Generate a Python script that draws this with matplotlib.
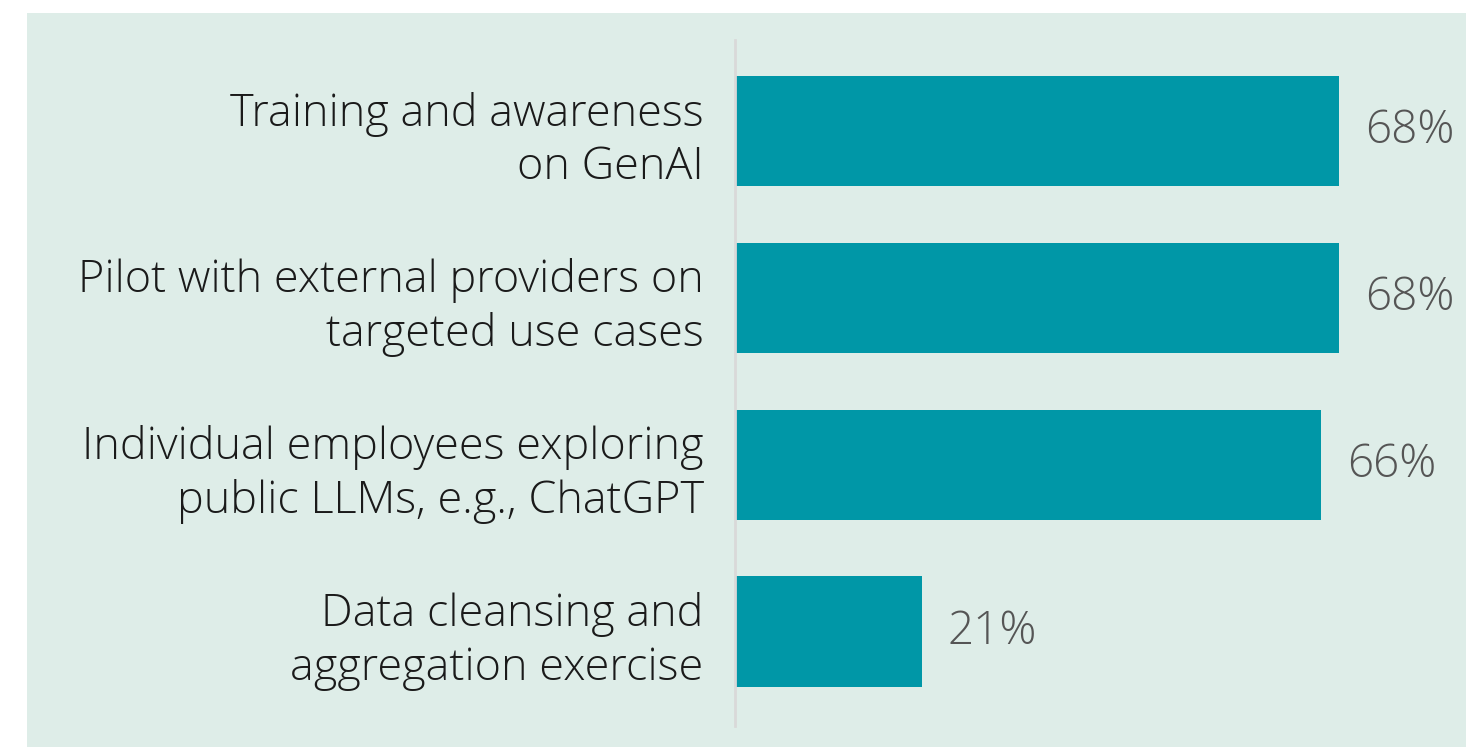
import matplotlib.pyplot as plt
from matplotlib.patches import Rectangle

categories = [
    "Training and awareness\non GenAI",
    "Pilot with external providers on\ntargeted use cases",
    "Individual employees exploring\npublic LLMs, e.g., ChatGPT",
    "Data cleansing and\naggregation exercise",
]
values = [68, 68, 66, 21]
value_labels = ["68%", "68%", "66%", "21%"]

BG = "#deede8"
BAR = "#0097a7"

fig = plt.figure(figsize=(14.66, 7.47), dpi=100)
fig.patch.set_facecolor("white")

# panel behind chart
fig.add_artist(Rectangle((27 / 1466, 0), 1 - 27 / 1466, 1 - 13 / 747,
                         transform=fig.transFigure, facecolor=BG,
                         edgecolor="none", zorder=-10))

ax = fig.add_axes([735 / 1466, 1 - 726 / 747, 731 / 1466, 686 / 747])
ax.set_facecolor("none")
ax.set_zorder(5)

y = list(range(len(values)))
ax.barh(y, values, height=0.66, color=BAR, zorder=2)

for yi, v, lab in zip(y, values, value_labels):
    ax.annotate(lab, (v, yi), xytext=(18.5, 0), textcoords="offset points",
                va="center", ha="left", fontsize=33, color="#555555",
                family="Open Sans", fontweight="light")

ax.set_xlim(0, 82.3)
ax.set_ylim(3.566, -0.545)

for s in ["top", "right", "bottom"]:
    ax.spines[s].set_visible(False)
ax.spines["left"].set_color("#d9d9d9")
ax.spines["left"].set_linewidth(2)
ax.spines["left"].set_zorder(3)

ax.set_xticks([])
ax.set_yticks(y)
ax.set_yticklabels(categories, fontsize=32.4, family="Open Sans",
                   fontweight="light", color="#1a1a1a", linespacing=1.27)
ax.tick_params(axis="y", length=0, pad=22.5)

fig.savefig("out.png", dpi=100)
